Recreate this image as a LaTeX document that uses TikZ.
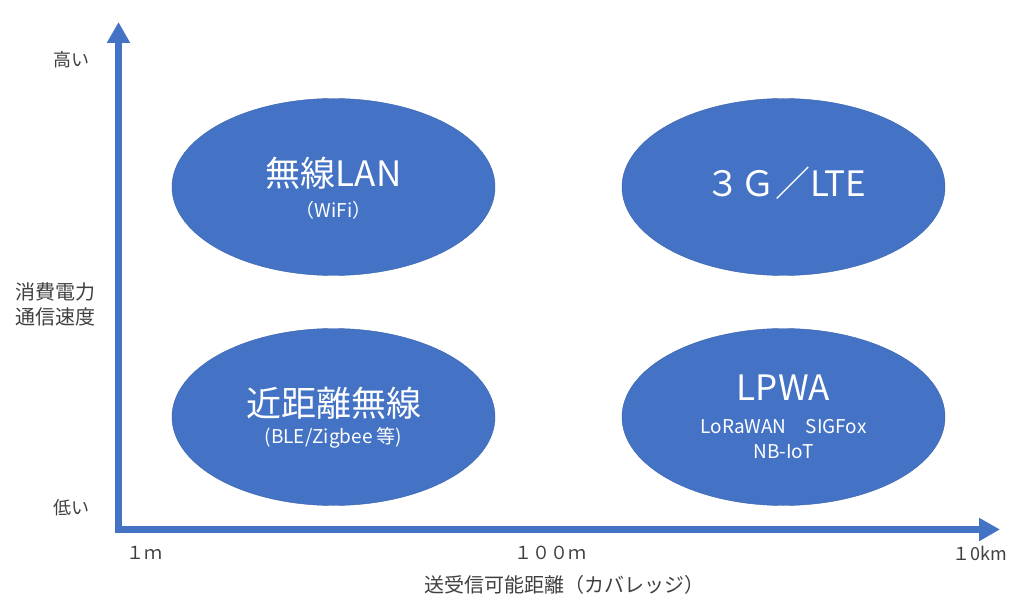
\documentclass[tikz,border=0pt]{standalone}
\usepackage{fontspec}
\setmainfont{Noto Sans CJK JP}
\usetikzlibrary{shapes.geometric,arrows.meta,positioning}
\definecolor{officeblue}{HTML}{4472C4}
\definecolor{officeedge}{HTML}{3A63AD}
\definecolor{labelgray}{HTML}{404040}
\tikzstyle{axis} = [draw=officeblue, line width=7pt, line join=miter, {Triangle[width=22pt,length=21pt]}-{Triangle[width=22pt,length=21pt]}]
\tikzstyle{area} = [draw=officeedge, fill=officeblue, ellipse, minimum width=323pt, minimum height=177pt, inner sep=0pt]
\tikzstyle{title} = [text=white, inner sep=0pt, font=\fontsize{35}{40}\selectfont]
\tikzstyle{sub} = [text=white, inner sep=0pt, font=\fontsize{19}{22}\selectfont]
\tikzstyle{axislabel} = [text=labelgray, inner sep=0pt, align=center, font=\fontsize{18}{25}\selectfont]

\begin{document}
\begin{tikzpicture}[x=1pt, y=-1pt, node distance=450pt]
        \useasboundingbox (0,0) rectangle (1024,612);
        % axes
        \coordinate (origin) at (118.5,529.5);
        \coordinate (ytop) at (118.5,22);
        \coordinate (xend) at (1000,529.5);
        \path[axis] (ytop) -- (origin) -- (xend);
        % four areas
        \node[area] (wlan) at (333.5,187) {};
        \node[area, right of=wlan] (lte) {};
        \node[area, below of=wlan, node distance=230pt] (near) {};
        \node[area, right of=near] (lpwa) {};
        % texts in the areas
        \node[title] (wlan title) at (333.5,173) {無線LAN};
        \node[sub] (wlan sub) at (333.5,210) {（WiFi）};
        \node[title] (lte title) at (786,183) {３Ｇ／LTE};
        \node[title] (near title) at (333.5,403) {近距離無線};
        \node[sub] (near sub) at (333.5,438) {(BLE/Zigbee 等)};
        \node[title] (lpwa title) at (783.5,388) {LPWA};
        \node[sub] (lpwa sub) at (783.5,427) {LoRaWAN　SIGFox};
        \node[sub] (lpwa sub2) at (783.5,452) {NB-IoT};
        % axis labels
        \node[axislabel] (high) at (71,60) {高い};
        \node[axislabel, font=\fontsize{20}{25}\selectfont] (power) at (55,304) {消費電力\\通信速度};
        \node[axislabel] (low) at (71,508) {低い};
        \node[axislabel] (near1m) at (144,553) {１ｍ};
        \node[axislabel] (mid100m) at (550,553) {１００ｍ};
        \node[axislabel] (far10km) at (980,553) {１0km};
        \node[axislabel, font=\fontsize{20}{25}\selectfont] (coverage) at (564,585) {送受信可能距離（カバレッジ）};
    \end{tikzpicture}
\end{document}
